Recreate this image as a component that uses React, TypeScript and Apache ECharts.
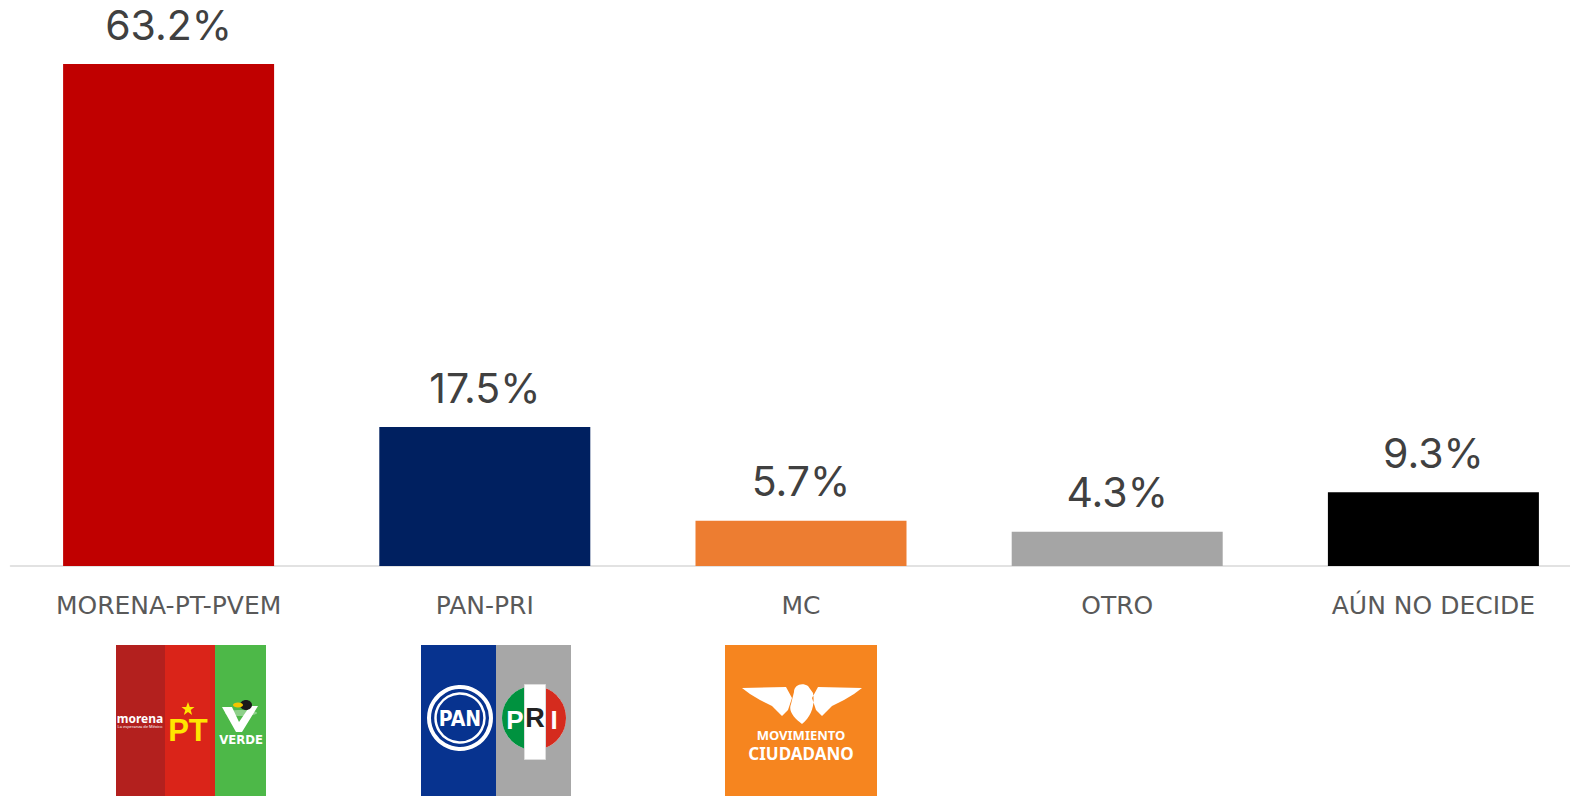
import React, { useEffect, useRef } from "react";
import * as echarts from "echarts";

const categories = ["MORENA-PT-PVEM", "PAN-PRI", "MC", "OTRO", "AÚN NO DECIDE"];
const values = [63.2, 17.5, 5.7, 4.3, 9.3];
const barColors = ["#C00000", "#002060", "#ED7D31", "#A5A5A5", "#000000"];

const FONT = "Inter, 'Noto Sans', sans-serif";
const CAT_FONT = "'DejaVu Sans', sans-serif";

// shapes for logos
echarts.graphic.registerShape(
  "mcbird",
  echarts.graphic.extendPath(
    "M0,4 L44,3 L50,14 L46,26 L40,32 L30,22 L18,16 L8,10 Z M120,4 L76,3 L70,14 L74,26 L80,32 L90,22 L102,16 L112,10 Z M52,8 C52,1 60,-2 66,2 L71,9 C73,20 70,32 60,40 C52,34 46,27 49,20 Z",
    {}
  )
);
echarts.graphic.registerShape(
  "prigreen",
  echarts.graphic.extendPath("M-10,-30.4 A32,32 0 0 0 -10,30.4 Z", {})
);
echarts.graphic.registerShape(
  "prired",
  echarts.graphic.extendPath("M10,-30.4 A32,32 0 0 1 10,30.4 Z", {})
);

function logoGraphics(): any[] {
  const g: any[] = [];
  // MORENA-PT-PVEM
  g.push({ type: "rect", left: 116, top: 645, shape: { width: 50, height: 151 }, style: { fill: "#B3201E" } });
  g.push({ type: "rect", left: 165, top: 645, shape: { width: 51, height: 151 }, style: { fill: "#DA2419" } });
  g.push({ type: "rect", left: 215, top: 645, shape: { width: 51, height: 151 }, style: { fill: "#4DB848" } });
  g.push({
    type: "text",
    x: 140, y: 718,
    style: { text: "morena", fill: "#ffffff", font: "bold 12px 'Noto Sans', sans-serif", textAlign: "center", textVerticalAlign: "middle" },
  });
  g.push({
    type: "text",
    x: 140, y: 726,
    style: { text: "La esperanza de México", fill: "#ffffff", font: "4px 'Noto Sans', sans-serif", textAlign: "center", textVerticalAlign: "middle" },
  });
  g.push({
    type: "polygon",
    shape: {
      points: [
        [188, 702], [189.8, 707], [194.5, 707], [190.7, 710], [192.1, 715], [188, 712], [183.9, 715], [185.3, 710], [181.5, 707], [186.2, 707],
      ],
    },
    style: { fill: "#FFE600" },
  });
  g.push({
    type: "text",
    x: 188, y: 730,
    style: { text: "PT", fill: "#FFE600", font: "bold 31px 'Liberation Sans', sans-serif", textAlign: "center", textVerticalAlign: "middle" },
  });
  g.push({ type: "ellipse", shape: { cx: 241, cy: 713, rx: 16, ry: 3 }, style: { fill: "#8ED08A" } });
  g.push({
    type: "polygon",
    shape: { points: [[222, 707], [232, 707], [239, 722], [250, 706], [258, 706], [242, 732], [236, 732]] },
    style: { fill: "#ffffff" },
  });
  g.push({ type: "ellipse", shape: { cx: 246, cy: 705, rx: 6, ry: 5 }, style: { fill: "#1a1a1a" } });
  g.push({ type: "ellipse", shape: { cx: 238, cy: 705, rx: 5, ry: 2.5 }, style: { fill: "#F5C400" } });
  g.push({
    type: "text",
    x: 241, y: 739,
    style: { text: "VERDE", fill: "#ffffff", font: "bold 13px 'DejaVu Sans Condensed', 'DejaVu Sans', sans-serif", textAlign: "center", textVerticalAlign: "middle" },
  });

  // PAN-PRI
  g.push({ type: "rect", left: 421, top: 645, shape: { width: 76, height: 151 }, style: { fill: "#07338F" } });
  g.push({ type: "rect", left: 496, top: 645, shape: { width: 75, height: 151 }, style: { fill: "#A7A7A7" } });
  g.push({ type: "circle", shape: { cx: 460, cy: 718, r: 31 }, style: { fill: "none", stroke: "#ffffff", lineWidth: 4 } });
  g.push({ type: "circle", shape: { cx: 460, cy: 718, r: 24.5 }, style: { fill: "none", stroke: "#ffffff", lineWidth: 2.5 } });
  g.push({
    type: "text",
    x: 460, y: 719,
    style: { text: "PAN", fill: "#ffffff", font: "bold 21px 'DejaVu Sans Condensed', 'Liberation Sans Narrow', sans-serif", textAlign: "center", textVerticalAlign: "middle" },
  });
  g.push({ type: "circle", shape: { cx: 534, cy: 718, r: 32 }, style: { fill: "#ffffff" } });
  g.push({ type: "prigreen", x: 534, y: 718, style: { fill: "#00923F" } });
  g.push({ type: "prired", x: 534, y: 718, style: { fill: "#D52B1E" } });
  g.push({ type: "rect", left: 524, top: 684, shape: { width: 21, height: 75 }, style: { fill: "#ffffff", stroke: "#dddddd", lineWidth: 1 } });
  g.push({
    type: "text", x: 515, y: 720,
    style: { text: "P", fill: "#ffffff", font: "bold 26px 'Liberation Sans', sans-serif", textAlign: "center", textVerticalAlign: "middle" },
  });
  g.push({
    type: "text", x: 535, y: 718,
    style: { text: "R", fill: "#222222", font: "bold 27px 'Liberation Sans', sans-serif", textAlign: "center", textVerticalAlign: "middle" },
  });
  g.push({
    type: "text", x: 554, y: 720,
    style: { text: "I", fill: "#ffffff", font: "bold 26px 'Liberation Sans', sans-serif", textAlign: "center", textVerticalAlign: "middle" },
  });

  // MC
  g.push({ type: "rect", left: 725, top: 645, shape: { width: 152, height: 151 }, style: { fill: "#F6851F" } });
  g.push({ type: "mcbird", x: 742, y: 684, style: { fill: "#ffffff" } });
  g.push({
    type: "text", x: 801, y: 735,
    style: { text: "MOVIMIENTO", fill: "#ffffff", font: "bold 13px 'Noto Sans', sans-serif", textAlign: "center", textVerticalAlign: "middle" },
  });
  g.push({
    type: "text", x: 801, y: 753,
    style: { text: "CIUDADANO", fill: "#ffffff", font: "bold 17px 'Noto Sans', sans-serif", textAlign: "center", textVerticalAlign: "middle" },
  });
  return g;
}

export default function App() {
  const ref = useRef<HTMLDivElement>(null);
  useEffect(() => {
    if (!ref.current) return;
    const chart = echarts.init(ref.current, undefined, { renderer: "svg" });
    chart.setOption({
      animation: false,
      backgroundColor: "#ffffff",
      grid: { left: 10.5, width: 1581, top: 10, bottom: 230, containLabel: false, outerBoundsMode: "none" },
      xAxis: {
        type: "category",
        data: categories,
        axisTick: { show: false },
        axisLine: { lineStyle: { color: "#D9D9D9", width: 1.5 } },
        axisLabel: { interval: 0, margin: 27, fontSize: 25, color: "#595959", fontFamily: CAT_FONT },
      },
      yAxis: { type: "value", min: 0, max: 70, show: false, splitLine: { show: false } },
      series: [
        {
          type: "bar",
          barWidth: 211,
          data: values.map((v, i) => ({ value: v, itemStyle: { color: barColors[i] } })),
          label: {
            show: true,
            position: "top",
            distance: 19,
            formatter: (p: any) => p.value.toFixed(1) + "%",
            fontSize: 41,
            color: "#404040",
            fontFamily: FONT,
          },
        },
      ],
      graphic: logoGraphics(),
    });
    return () => chart.dispose();
  }, []);
  return <div ref={ref} style={{ position: "absolute", left: 0, top: 0, width: 1570, height: 796 }} />;
}
